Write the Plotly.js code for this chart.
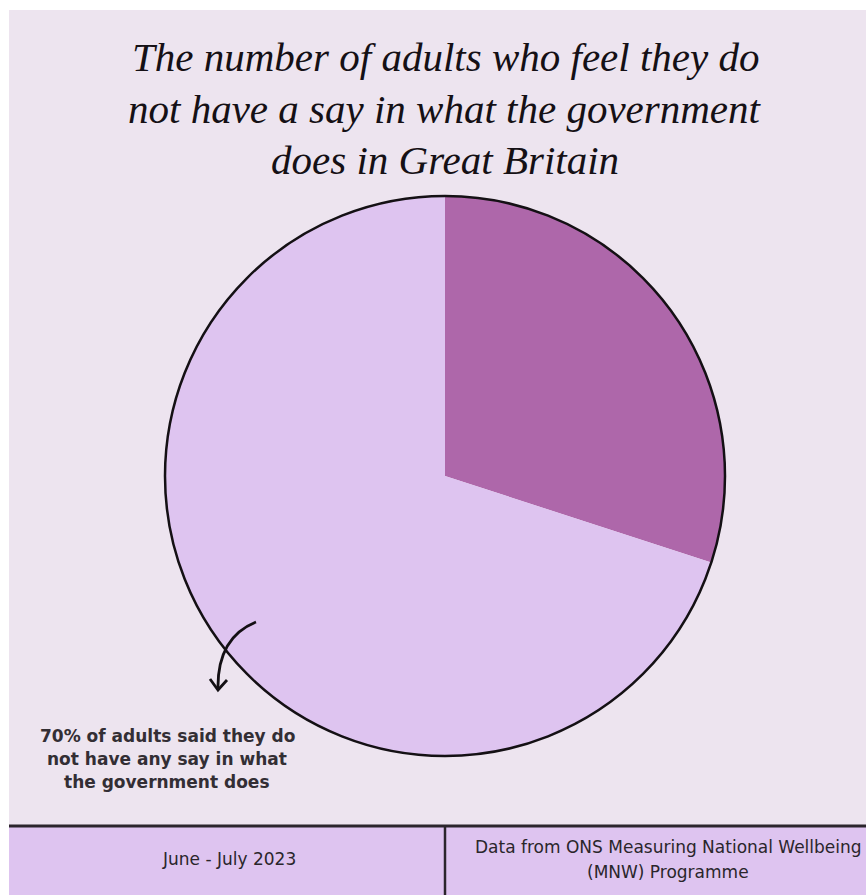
<!DOCTYPE html>
<html>
<head>
<meta charset="utf-8">
<script src="https://cdn.plot.ly/plotly-3.0.1.min.js"></script>
<style>html,body{margin:0;padding:0;background:#fff;}#chart{width:866px;height:895px;}</style>
</head>
<body>
<div id="chart"></div>
<script>
// ---- data ----
const categories = ["Have a say", "Do not have any say"];
const shares = [30, 70];
const sliceColors = ["#ae67aa", "#dec4f0"];
const titleLines = [
  "The number of adults who feel they do",
  "not have a say in what the government",
  "does in Great Britain"
];
const noteLines = ["70% of adults said they do", "not have any say in what", "the government does"];
const footerLeft = "June - July 2023";
const footerRight = ["Data from ONS Measuring National Wellbeing", "(MNW) Programme"];

// ---- helpers (pixel -> paper) ----
const W = 866, H = 895;
const px = x => x / W;
const py = y => 1 - y / H;

const pieDomain = {x: [px(165), px(725)], y: [py(757), py(195)]};

const traces = [
  {
    type: "pie",
    labels: categories,
    values: shares,
    sort: false,
    direction: "clockwise",
    rotation: 0,
    marker: {colors: sliceColors, line: {width: 0}},
    textinfo: "none",
    hoverinfo: "skip",
    showlegend: false,
    domain: pieDomain
  },
  {
    type: "pie",
    labels: ["outline"],
    values: [1],
    sort: false,
    marker: {colors: ["rgba(0,0,0,0)"], line: {color: "#141014", width: 2.5}},
    textinfo: "none",
    hoverinfo: "skip",
    showlegend: false,
    domain: pieDomain
  }
];

const annotations = [];
const titleY = [57, 109, 160];
titleLines.forEach((t, i) => annotations.push({
  text: t, x: px(445), y: py(titleY[i]), xref: "paper", yref: "paper",
  xanchor: "center", yanchor: "middle", showarrow: false,
  font: {family: "Liberation Serif", size: 41, color: "#151015", style: "italic"}
}));
const noteY = [736, 759, 782];
noteLines.forEach((t, i) => annotations.push({
  text: t, x: px(167), y: py(noteY[i]), xref: "paper", yref: "paper",
  xanchor: "center", yanchor: "middle", showarrow: false,
  font: {family: "DejaVu Sans", size: 17, color: "#332e34", weight: "bold"}
}));
annotations.push({
  text: footerLeft, x: px(229), y: py(859), xref: "paper", yref: "paper",
  xanchor: "center", yanchor: "middle", showarrow: false,
  font: {family: "DejaVu Sans", size: 17, color: "#2a262b"}
});
const frY = [847, 872];
footerRight.forEach((t, i) => annotations.push({
  text: t, x: px(668), y: py(frY[i]), xref: "paper", yref: "paper",
  xanchor: "center", yanchor: "middle", showarrow: false,
  font: {family: "DejaVu Sans", size: 17, color: "#2a262b"}
}));

const P = (x, y) => px(x).toFixed(5) + "," + py(y).toFixed(5);
const shapes = [
  {type: "rect", xref: "paper", yref: "paper", x0: px(9), x1: px(866), y0: py(895), y1: py(10),
   fillcolor: "#ede4ef", line: {width: 0}, layer: "below"},
  {type: "rect", xref: "paper", yref: "paper", x0: px(9), x1: px(866), y0: py(895), y1: py(826),
   fillcolor: "#dec4f0", line: {width: 0}, layer: "below"},
  {type: "line", xref: "paper", yref: "paper", x0: px(9), x1: px(866), y0: py(826), y1: py(826),
   line: {color: "#2b252c", width: 3}},
  {type: "line", xref: "paper", yref: "paper", x0: px(445), x1: px(445), y0: py(827), y1: py(895),
   line: {color: "#2b252c", width: 2.5}},
  {type: "path", xref: "paper", yref: "paper",
   path: "M" + P(256, 622) + " C" + P(236, 630) + " " + P(217, 648) + " " + P(218, 690),
   line: {color: "#141014", width: 2.8}},
  {type: "path", xref: "paper", yref: "paper",
   path: "M" + P(210, 679) + " L" + P(218, 690) + " L" + P(227, 680),
   line: {color: "#141014", width: 2.8}}
];

const layout = {
  width: W, height: H,
  margin: {l: 0, r: 0, t: 0, b: 0},
  paper_bgcolor: "#ffffff",
  plot_bgcolor: "rgba(0,0,0,0)",
  showlegend: false,
  annotations: annotations,
  shapes: shapes
};

Plotly.newPlot("chart", traces, layout, {displayModeBar: false, staticPlot: true});
</script>
</body>
</html>
